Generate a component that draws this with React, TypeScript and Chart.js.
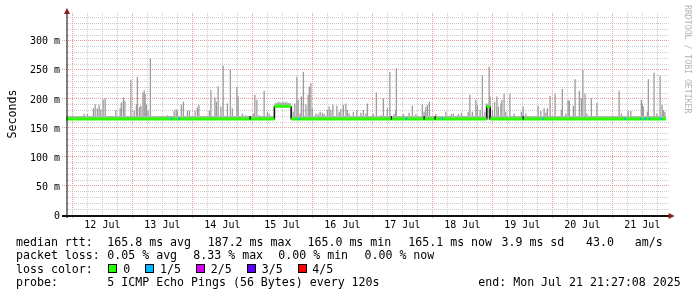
import React, { useEffect, useRef } from "react";
import { Chart, registerables } from "chart.js";

Chart.register(...registerables);

// ---------- data ----------
// x values are hours since 12 Jul 00:00 (local), window ends Mon Jul 21 21:27:08
const startHour = -2.56;
const endHour = 237.45;
const axisMaxHour = 238.5;

const dayLabels = ["12 Jul", "13 Jul", "14 Jul", "15 Jul", "16 Jul", "17 Jul", "18 Jul", "19 Jul", "20 Jul", "21 Jul"];
const yTickValues = [0, 50, 100, 150, 200, 250, 300];
const yTickLabels = ["0", "50 m", "100 m", "150 m", "200 m", "250 m", "300 m"];
const yMaxValue = 348;

// smoke (max rtt of the 5 pings), ms
const smokeHours = [
  -2.0, 1.6, 4.7, 6.0, 8.4, 9.1, 10.0, 10.7, 11.4, 12.3, 13.1, 17.4, 19.1, 19.6, 20.4, 21.0,
  23.4, 24.7, 25.6, 26.0, 26.8, 27.4, 28.2, 28.7, 29.1, 29.6, 30.3, 31.2, 38.0, 40.7, 41.5, 42.0,
  43.6, 44.4, 46.0, 46.8, 49.1, 50.0, 50.6, 54.8, 55.4, 57.0, 57.6, 58.3, 59.4, 60.3, 62.0, 63.2,
  64.0, 65.8, 66.3, 68.0, 69.4, 72.4, 73.0, 73.8, 74.7, 76.7, 78.0, 78.7, 88.3, 89.0, 89.8, 90.3,
  91.1, 91.6, 92.4, 93.4, 94.3, 94.8, 95.4, 96.0, 97.4, 98.3, 99.1, 100.0, 100.7, 102.0, 102.7, 103.4,
  104.2, 105.8, 106.7, 107.4, 108.4, 109.4, 110.0, 110.7, 112.4, 113.8, 115.4, 116.4, 117.4, 118.0, 120.4, 121.6,
  123.4, 124.4, 126.0, 127.0, 128.7, 129.4, 129.6, 132.4, 134.7, 136.0, 137.4, 140.0, 140.7, 141.4, 142.0, 142.8,
  145.4, 149.4, 151.6, 152.4, 154.4, 155.6, 158.3, 159.0, 160.0, 161.4, 162.0, 163.1, 164.0, 165.0, 165.6, 166.7,
  167.1, 168.0, 168.9, 169.8, 170.4, 171.4, 171.8, 172.7, 173.4, 175.0, 176.7, 179.6, 180.3, 181.4, 186.3, 187.4,
  188.7, 189.4, 190.0, 191.1, 193.1, 195.6, 196.0, 197.4, 198.3, 198.8, 200.4, 201.1, 202.8, 203.6, 204.2, 205.1,
  205.8, 207.6, 209.8, 218.7, 219.6, 222.3, 223.4, 227.6, 228.0, 228.4, 230.0, 230.4, 232.7, 233.8, 235.1, 235.9,
  236.4, 237.0,
];
const smokeMax = [
  172, 170, 174, 174, 184, 191, 184, 190, 182, 199, 201, 181, 184, 194, 203, 197,
  233, 180, 191, 238, 186, 188, 211, 215, 209, 190, 180, 270, 172, 180, 182, 180,
  190, 195, 180, 180, 180, 185, 190, 180, 215, 203, 195, 222, 187, 257, 192, 251,
  184, 221, 204, 175, 172, 175, 207, 198, 172, 214, 178, 175, 178, 192, 238, 198,
  175, 204, 247, 190, 207, 221, 227, 184, 175, 174, 178, 176, 174, 181, 187, 181,
  190, 188, 178, 182, 190, 192, 181, 175, 178, 181, 176, 181, 175, 192, 174, 211,
  172, 201, 184, 247, 174, 181, 253, 174, 176, 188, 174, 191, 178, 186, 190, 195,
  174, 178, 174, 175, 174, 176, 178, 207, 178, 198, 190, 181, 241, 178, 192, 256,
  204, 181, 195, 204, 187, 192, 198, 209, 178, 209, 175, 178, 187, 175, 188, 179,
  184, 176, 184, 205, 209, 181, 217, 175, 198, 197, 188, 234, 214, 201, 250, 209,
  175, 201, 193, 214, 175, 179, 179, 198, 192, 187, 178, 234, 245, 175, 240, 190,
  181, 178,
];
// smoke above the 15 Jul plateau
const plateauHours = [81.0, 81.4, 81.8, 82.2, 82.6, 83.0, 83.4, 83.8, 84.2, 84.6, 85.0, 85.4, 85.8, 86.2, 86.6, 87.0];
const plateauMax = [190, 193, 192, 194, 195, 193, 194, 192, 195, 194, 193, 195, 194, 193, 192, 191];
const smokeFloor = 164;

// median rtt, ms
const medianBase = 165.5;
const stepStart = [80.8, 165.8];
const stepEnd = [87.5, 167.1];
const stepLevel = [187.5, 186.5];

// loss markers on the median line
const loss1Hours = [39.6, 42.7, 90.7, 133.6, 148.0, 188.4, 221.0, 227.4, 229.0, 230.7, 235.6];
const darkHours = [71.1, 127.6, 140.7, 145.1, 180.3];

// legend
const rttLabel = "median rtt:";
const rttItems = ["165.8 ms avg", "187.2 ms max", "165.0 ms min", "165.1 ms now", "3.9 ms sd", "43.0   am/s"];
const lossLabel = "packet loss:";
const lossItems = ["0.05 % avg", "8.33 % max", "0.00 % min", "0.00 % now"];
const lossColorLabel = "loss color:";
const lossColorNames = ["0", "1/5", "2/5", "3/5", "4/5"];
const lossColors = ["#26ff00", "#00b8ff", "#d800ff", "#5a00ff", "#ff0000"];
const probeLabel = "probe:";
const probeText = "5 ICMP Echo Pings (56 Bytes) every 120s";
const endText = "end: Mon Jul 21 21:27:08 2025";
const yTitle = "Seconds";
const watermark = "RRDTOOL / TOBI OETIKER";

// ---------- helpers ----------
function medianPath(offset: number) {
  const pts: { x: number; y: number | null }[] = [{ x: startHour, y: medianBase + offset }];
  for (let i = 0; i < stepStart.length; i++) {
    pts.push({ x: stepStart[i], y: medianBase + offset });
    pts.push({ x: stepStart[i], y: null });
    pts.push({ x: stepStart[i], y: stepLevel[i] + offset });
    pts.push({ x: stepEnd[i], y: stepLevel[i] + offset });
    pts.push({ x: stepEnd[i], y: null });
    pts.push({ x: stepEnd[i], y: medianBase + offset });
  }
  pts.push({ x: endHour, y: medianBase + offset });
  return pts;
}
function stepVerticals() {
  const pts: { x: number; y: number | null }[] = [];
  for (let i = 0; i < stepStart.length; i++) {
    pts.push({ x: stepStart[i], y: medianBase - 1 });
    pts.push({ x: stepStart[i], y: stepLevel[i] });
    pts.push({ x: stepStart[i], y: null });
    pts.push({ x: stepEnd[i], y: stepLevel[i] });
    pts.push({ x: stepEnd[i], y: medianBase - 1 });
    pts.push({ x: stepEnd[i], y: null });
  }
  return pts;
}

const MONO = '"DejaVu Sans Mono", "Liberation Mono", monospace';
const MINOR = "#cdcdcd";
const MAJOR = "#e89a9a";
const ARROW = "#8c1c1c";

const overlay = {
  id: "smokeOverlay",
  beforeDraw(chart: any) {
    const { ctx, width, height } = chart;
    ctx.save();
    ctx.fillStyle = "#ffffff";
    ctx.fillRect(0, 0, width, height);
    ctx.restore();
  },
  beforeDatasetsDraw(chart: any) {
    const { ctx, chartArea: ca, scales } = chart;
    const xs = scales.x;
    const ys = scales.y;
    const seg = (x1: number, y1: number, x2: number, y2: number, c: string) => {
      ctx.strokeStyle = c;
      ctx.beginPath();
      ctx.moveTo(x1, y1);
      ctx.lineTo(x2, y2);
      ctx.stroke();
    };
    ctx.save();
    ctx.lineWidth = 1;
    ctx.setLineDash([1, 1]);
    for (let v = 10; v <= yMaxValue; v += 10) {
      if (v % 50 === 0) continue;
      const y = Math.floor(ys.getPixelForValue(v)) + 0.5;
      seg(ca.left, y, ca.right, y, MINOR);
    }
    for (let h = 6; h <= axisMaxHour; h += 6) {
      if (h % 24 === 0) continue;
      const x = Math.floor(xs.getPixelForValue(h)) + 0.5;
      seg(x, ca.top, x, ca.bottom + 2, MINOR);
    }
    for (let v = 50; v <= yMaxValue; v += 50) {
      const y = Math.floor(ys.getPixelForValue(v)) + 0.5;
      seg(ca.left - 4, y, ca.right, y, MAJOR);
    }
    for (let h = 0; h <= axisMaxHour; h += 24) {
      const x = Math.floor(xs.getPixelForValue(h)) + 0.5;
      seg(x, ca.top, x, ca.bottom + 4, MAJOR);
    }
    ctx.restore();
  },
  afterDatasetsDraw(chart: any) {
    const { ctx, chartArea: ca, scales } = chart;
    const xs = scales.x;
    const ys = scales.y;
    ctx.save();
    ctx.setLineDash([]);
    // y axis
    ctx.strokeStyle = "#000";
    ctx.lineWidth = 1;
    ctx.beginPath();
    ctx.moveTo(ca.left + 1, ca.bottom + 3);
    ctx.lineTo(ca.left + 1, 11);
    ctx.stroke();
    // x axis
    ctx.fillStyle = "#101010";
    ctx.fillRect(ca.left - 4, ca.bottom, ca.right - ca.left + 5, 2);
    // arrows
    ctx.fillStyle = ARROW;
    ctx.beginPath();
    ctx.moveTo(ca.left + 1, 8);
    ctx.lineTo(ca.left - 2, 14);
    ctx.lineTo(ca.left + 4, 14);
    ctx.closePath();
    ctx.fill();
    ctx.beginPath();
    ctx.moveTo(ca.right + 6, ca.bottom + 1);
    ctx.lineTo(ca.right, ca.bottom - 2);
    ctx.lineTo(ca.right, ca.bottom + 4);
    ctx.closePath();
    ctx.fill();

    // tick labels
    ctx.fillStyle = "#000";
    ctx.font = `10px ${MONO}`;
    ctx.textBaseline = "alphabetic";
    ctx.textAlign = "right";
    yTickValues.forEach((v, i) => {
      ctx.fillText(yTickLabels[i], 60, ys.getPixelForValue(v) + 3.6);
    });
    ctx.textAlign = "center";
    dayLabels.forEach((d, i) => {
      ctx.fillText(d, xs.getPixelForValue(12 + 24 * i), 228);
    });

    // axis title
    ctx.font = `11.6px ${MONO}`;
    ctx.save();
    ctx.translate(15.5, 114);
    ctx.rotate(-Math.PI / 2);
    ctx.textAlign = "center";
    ctx.fillText(yTitle, 0, 0);
    ctx.restore();

    // watermark
    ctx.save();
    ctx.fillStyle = "#b4b4b4";
    ctx.font = `8.2px ${MONO}`;
    ctx.translate(685, 5);
    ctx.rotate(Math.PI / 2);
    ctx.textAlign = "left";
    ctx.fillText(watermark, 0, 0);
    ctx.restore();

    // legend
    ctx.fillStyle = "#000";
    ctx.font = `11.6px ${MONO}`;
    ctx.textAlign = "left";
    const rttX = [107.3, 207.7, 307.5, 408.3, 501.5, 586];
    ctx.fillText(rttLabel, 16, 245.7);
    rttItems.forEach((t, i) => ctx.fillText(t, rttX[i], 245.7));
    const lossX = [107.3, 193.3, 278.3, 364.5];
    ctx.fillText(lossLabel, 16, 259.2);
    lossItems.forEach((t, i) => ctx.fillText(t, lossX[i], 259.2));
    ctx.fillText(lossColorLabel, 16, 272.7);
    const boxX = [108, 145, 196, 247, 298];
    const nameX = [123.3, 160, 210.7, 261.7, 312.3];
    lossColorNames.forEach((n, i) => {
      ctx.fillStyle = lossColors[i];
      ctx.fillRect(boxX[i], 264, 9, 9);
      ctx.strokeStyle = "#000";
      ctx.lineWidth = 1;
      ctx.strokeRect(boxX[i] + 0.5, 264.5, 8, 8);
      ctx.fillStyle = "#000";
      ctx.fillText(n, nameX[i], 272.7);
    });
    ctx.fillText(probeLabel, 16, 286.2);
    ctx.fillText(probeText, 107.3, 286.2);
    ctx.fillText(endText, 478.3, 286.2);
    ctx.restore();
  },
};

const barBase = { type: "bar", grouped: false, borderWidth: 0, inflateAmount: 0 };

export default function App() {
  const ref = useRef<HTMLCanvasElement>(null);
  useEffect(() => {
    const smoke = smokeHours.map((h, i) => ({ x: h, y: [smokeFloor, smokeMax[i]] }));
    const plateau = plateauHours.map((h, i) => ({ x: h, y: [stepLevel[0] - 2, plateauMax[i]] }));
    const loss1 = loss1Hours.map((h) => ({ x: h, y: [medianBase - 1.8, medianBase + 2] }));
    const dark = darkHours.map((h) => ({ x: h, y: [medianBase - 1.5, medianBase + 5] }));
    const chart = new Chart(ref.current as HTMLCanvasElement, {
      type: "bar",
      data: {
        datasets: [
          { ...barBase, data: smoke, backgroundColor: "#9c9c9c", barThickness: 1.3, order: 6 },
          { ...barBase, data: plateau, backgroundColor: "#a8a8a8", barThickness: 1.3, order: 5 },
          {
            type: "line",
            data: medianPath(3.4),
            borderColor: "#b4b4b4",
            borderWidth: 2,
            pointRadius: 0,
            spanGaps: false,
            order: 4,
          },
          {
            type: "line",
            data: stepVerticals(),
            borderColor: "#111111",
            borderWidth: 1.6,
            pointRadius: 0,
            spanGaps: false,
            order: 3,
          },
          {
            type: "line",
            data: medianPath(0),
            borderColor: "#26ff00",
            borderWidth: 3,
            pointRadius: 0,
            spanGaps: false,
            borderCapStyle: "butt",
            order: 2,
          },
          { ...barBase, data: loss1, backgroundColor: "#00b8ff", barThickness: 1.6, order: 1 },
          { ...barBase, data: dark, backgroundColor: "#151515", barThickness: 1.2, order: 0 },
        ] as any,
      },
      options: {
        animation: false,
        responsive: false,
        devicePixelRatio: 1,
        layout: { padding: { left: 66, right: 697 - 668.6, top: 13, bottom: 297 - 215 } },
        plugins: { legend: { display: false }, tooltip: { enabled: false } },
        scales: {
          x: { type: "linear", min: startHour, max: axisMaxHour, display: false, offset: false },
          y: { type: "linear", min: 0, max: yMaxValue, display: false },
        },
      },
      plugins: [overlay],
    } as any);
    return () => chart.destroy();
  }, []);
  return (
    <div style={{ position: "fixed", left: 0, top: 0, width: 697, height: 297, background: "#fff" }}>
      <canvas ref={ref} width={697} height={297} style={{ display: "block", width: 697, height: 297 }} />
    </div>
  );
}
